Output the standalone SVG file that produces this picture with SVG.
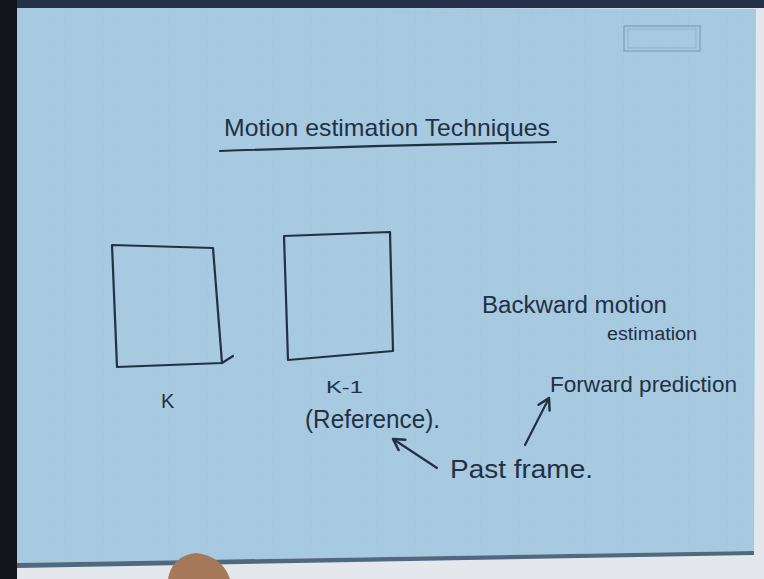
<svg xmlns="http://www.w3.org/2000/svg" width="764" height="579" viewBox="0 0 764 579">
  <defs>
    <pattern id="grid" width="13" height="13" patternUnits="userSpaceOnUse">
      <path d="M13 0 V13 M0 13 H13" fill="none" stroke="#95bbd4" stroke-width="0.6" opacity="0.5"/>
    </pattern>
    <marker id="arrow" viewBox="0 0 10 10" refX="8" refY="5" markerWidth="7" markerHeight="7" orient="auto">
      <path d="M1 1 L8 5 L1 9" fill="none" stroke="#223044" stroke-width="1.6" stroke-linecap="round" stroke-linejoin="round"/>
    </marker>
  </defs>
  <style>
    .ink { fill: none; stroke: #223044; stroke-width: 2.2; stroke-linecap: round; stroke-linejoin: round; }
    .t { font-family: "Liberation Sans", Arial, sans-serif; fill: #223044; }
  </style>

  <!-- background / paper -->
  <rect x="0" y="0" width="764" height="579" fill="#e4e7ec"/>
  <polygon points="17,7 756,9 754,551 17,563" fill="#a7cae1"/>
  <polygon points="17,7 756,9 754,551 17,563" fill="url(#grid)"/>
  <polygon points="17,563 754,551 754,555 17,568" fill="#4f6a80"/>
  <rect x="0" y="0" width="764" height="8" fill="#26324a"/>
  <rect x="0" y="0" width="17" height="579" fill="#111418"/>
  <path d="M168 579 Q172 556 196 553 Q222 556 230 579 Z" fill="#a47858"/>

  <!-- stamp -->
  <g id="stamp">
    <rect x="624" y="26" width="76" height="25" fill="none" stroke="#7f9db2" stroke-width="1.2"/>
    <rect x="628" y="29" width="68" height="19" fill="none" stroke="#8eaabd" stroke-width="0.8"/>
  </g>

  <!-- title -->
  <g id="title">
    <text class="t" x="224" y="136" font-size="24" textLength="326" lengthAdjust="spacingAndGlyphs">Motion estimation Techniques</text>
    <path class="ink" d="M220 151 Q390 145 556 142"/>
  </g>

  <!-- frame K -->
  <g id="frame-k">
    <path class="ink" d="M112 245 L213 248 L222 363 L117 367 Z"/>
    <path class="ink" d="M222 363 L233 356"/>
    <text class="t" x="161" y="408" font-size="20">K</text>
  </g>

  <!-- frame K-1 -->
  <g id="frame-k1">
    <path class="ink" d="M284 236 L390 232 L393 351 L288 360 Z"/>
    <text class="t" x="326" y="393" font-size="17" textLength="37" lengthAdjust="spacingAndGlyphs">K-1</text>
    <text class="t" x="305" y="428" font-size="25" textLength="135" lengthAdjust="spacingAndGlyphs">(Reference).</text>
  </g>

  <!-- labels -->
  <g id="backward">
    <text class="t" x="482" y="313" font-size="23" textLength="185" lengthAdjust="spacingAndGlyphs">Backward motion</text>
    <text class="t" x="607" y="340" font-size="18" textLength="90" lengthAdjust="spacingAndGlyphs">estimation</text>
  </g>
  <g id="forward">
    <text class="t" x="550" y="392" font-size="22" textLength="187" lengthAdjust="spacingAndGlyphs">Forward prediction</text>
  </g>
  <g id="past">
    <text class="t" x="450" y="478" font-size="26" textLength="143" lengthAdjust="spacingAndGlyphs">Past frame.</text>
  </g>

  <!-- connectors -->
  <g id="connectors">
    <path class="ink" d="M437 468 L393 439" marker-end="url(#arrow)"/>
    <path class="ink" d="M525 445 L549 398" marker-end="url(#arrow)"/>
  </g>
</svg>
